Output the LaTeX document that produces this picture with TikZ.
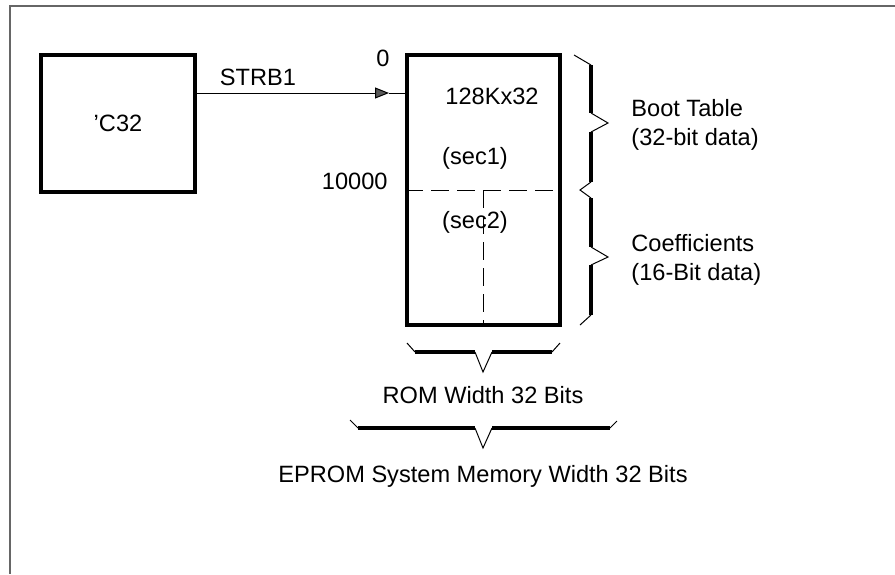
\documentclass[tikz,border=0pt]{standalone}
\usepackage{fontspec}
\setmainfont{Liberation Sans}
\usetikzlibrary{positioning}
\usetikzlibrary{arrows.meta}

\begin{document}
\begin{tikzpicture}[
        % one unit is one pixel of the figure
        x=0.5pt, y=-0.5pt,
        every node/.style={font=\fontsize{11.8}{14.5}\selectfont, inner sep=0pt},
        chipbox/.style={
            draw,
            rectangle,
            line width=1.8pt,
            minimum width=77pt,
            minimum height=68.5pt
        },
        rombox/.style={
            draw,
            rectangle,
            line width=1.8pt,
            minimum width=76.5pt,
            minimum height=135pt
        },
        sectline/.style={dash pattern=on 9pt off 4pt, line width=0.5pt},
        bracethin/.style={line width=0.5pt},
        bracethick/.style={line width=1.6pt},
        framestyle/.style={draw=black!60, line width=1pt},
        sidetext/.style={anchor=west, align=left}
        ]

        \useasboundingbox (0,0) rectangle (895,574);
        \draw[framestyle] (895,5.5) -- (9.5,5.5) -- (9.5,574);

        \node [chipbox] (c32) at (118,123.5) {'C32};
        \node [rombox] (rom) at (483.5,190) {};

        \coordinate (tip) at (389,93);
        \draw [line width=0.5pt, -{Triangle[length=7pt, width=5.5pt, fill=black!65]}] (c32.east |- tip) -- (tip);
        \draw [line width=0.5pt] (tip) -- (rom.west |- tip);
        \node (strb) at (258,77) {STRB1};

        \draw [sectline] (rom.west) -- (rom.east);
        \draw [sectline] (rom.center) -- (rom.south);

        \node (addr0) at (383,58) {0};
        \node [anchor=base east] (addr1) at (388,189) {10000};
        \node (size) at (492,96) {128Kx32};
        \node (sec1) at (475,158) {(sec1)};
        \node (sec2) at (475,222) {(sec2)};

        % brace at the right of the ROM
        \draw [bracethin] (574,55) -- (591,65);
        \draw [bracethin] (591,113) -- (608,123) -- (591,132);
        \draw [bracethin] (591,182) -- (580,190) -- (591,198);
        \draw [bracethin] (591,247) -- (608,257) -- (591,265);
        \draw [bracethin] (591,315) -- (580,325);
        \foreach \ya/\yb in {65/113, 132/182, 198/247, 265/315}
            \draw [bracethick] (591,\ya) -- (591,\yb);

        \node [sidetext] (boot) at (631,125) {Boot Table\\(32-bit data)};
        \node [sidetext] (coef) at (631,260) {Coefficients\\(16-Bit data)};

        % braces below the ROM
        \draw [bracethin] (407,343) -- (415,352);
        \draw [bracethin] (475,352) -- (483,372) -- (492,352);
        \draw [bracethin] (552,352) -- (560,343);
        \draw [bracethick] (415,352) -- (475,352);
        \draw [bracethick] (492,352) -- (552,352);
        \node (romw) at (483,395) {ROM Width 32 Bits};

        \draw [bracethin] (350,420) -- (358,428);
        \draw [bracethin] (475,428) -- (483,448) -- (492,428);
        \draw [bracethin] (610,428) -- (617,421);
        \draw [bracethick] (358,428) -- (475,428);
        \draw [bracethick] (492,428) -- (610,428);
        \node (sysw) at (483,476) {EPROM System Memory Width 32 Bits};
\end{tikzpicture}
\end{document}
